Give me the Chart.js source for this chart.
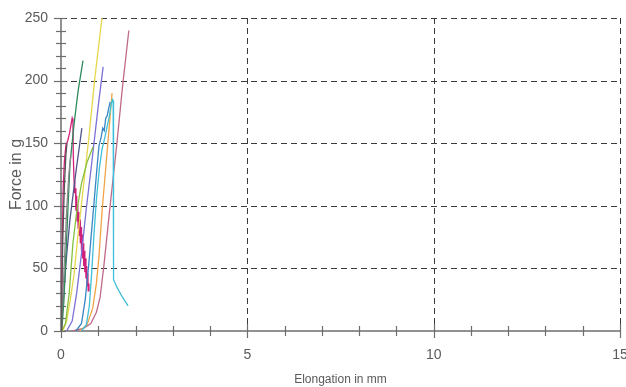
<!DOCTYPE html>
<html>
<head>
<meta charset="utf-8">
<script src="https://cdn.jsdelivr.net/npm/chart.js@4/dist/chart.umd.min.js"></script>
<style>
  html, body { margin: 0; padding: 0; background: #ffffff; }
  #wrap { width: 626px; height: 387px; }
</style>
</head>
<body>
<div id="wrap"><canvas id="c" width="626" height="387"></canvas></div>
<script>
// ---- Data (Elongation in mm, Force in g) ----
const xTickLabels = [0, 5, 10, 15];
const yTickLabels = [0, 50, 100, 150, 200, 250];

const grayX = [0, 0.02, 0.05, 0.09, 0.13, 0.16];
const grayY = [0, 30, 75, 115, 140, 150];

const gray2X = [0, 0.04, 0.09, 0.15, 0.21, 0.26];
const gray2Y = [0, 20, 55, 95, 125, 140];

const magentaX = [0, 0.02, 0.04, 0.06, 0.09, 0.13, 0.18, 0.23, 0.27, 0.30, 0.32, 0.33, 0.35, 0.37, 0.39, 0.40, 0.42, 0.43, 0.45, 0.46, 0.48, 0.49, 0.51, 0.52, 0.54, 0.55, 0.57, 0.58, 0.60, 0.61, 0.63, 0.64, 0.66, 0.67, 0.69, 0.70, 0.72, 0.73, 0.75];
const magentaY = [0, 35, 80, 115, 135, 148, 152, 158, 165, 170, 168, 140, 120, 110, 114, 96, 108, 88, 101, 82, 95, 76, 89, 70, 83, 64, 77, 58, 70, 52, 64, 47, 58, 42, 52, 36, 46, 32, 38];

const darkGreenX = [0, 0.04, 0.08, 0.13, 0.19, 0.24, 0.35, 0.46, 0.59];
const darkGreenY = [0, 8, 25, 60, 100, 133, 165, 192, 216];

const slateX = [0, 0.06, 0.15, 0.24, 0.4, 0.56];
const slateY = [0, 25, 60, 89, 127, 162];

const lightGreenX = [0.02, 0.12, 0.22, 0.32, 0.42, 0.55, 0.7, 0.86];
const lightGreenY = [0, 6, 30, 70, 95, 118, 135, 147];

const yellowX = [0.05, 0.15, 0.25, 0.35, 0.45, 0.6, 0.75, 0.9, 1.1];
const yellowY = [0, 8, 25, 45, 75, 115, 155, 200, 250];

const purpleX = [0.15, 0.3, 0.42, 0.55, 0.68, 0.82, 1.0, 1.13];
const purpleY = [0, 8, 30, 62, 98, 133, 180, 211];

const steelBlueX = [0.4, 0.55, 0.65, 0.75, 0.85, 0.95, 1.02, 1.08, 1.12, 1.16, 1.2, 1.24, 1.28, 1.32];
const steelBlueY = [0, 6, 25, 55, 90, 125, 148, 155, 162, 160, 170, 172, 178, 183];

const cyanX = [0.55, 0.68, 0.76, 0.82, 0.88, 0.95, 1.03, 1.1, 1.18, 1.25, 1.3, 1.34, 1.38, 1.4, 1.41, 1.41, 1.5, 1.65, 1.8];
const cyanY = [0, 5, 20, 45, 75, 105, 130, 145, 155, 165, 172, 180, 185, 184, 120, 41, 35, 27, 20];

const orangeX = [0.5, 0.7, 0.85, 0.95, 1.02, 1.1, 1.2, 1.3, 1.37];
const orangeY = [0, 5, 18, 38, 60, 95, 130, 165, 190];

const mauveX = [0.3, 0.6, 0.8, 0.95, 1.05, 1.15, 1.3, 1.5, 1.65, 1.82];
const mauveY = [0, 2, 6, 15, 27, 52, 95, 150, 195, 240];

const seriesNames = ['gray', 'gray2', 'darkGreen', 'slate', 'lightGreen', 'yellow', 'purple', 'steelBlue', 'cyan', 'orange', 'mauve', 'magenta'];
const seriesX = [grayX, gray2X, darkGreenX, slateX, lightGreenX, yellowX, purpleX, steelBlueX, cyanX, orangeX, mauveX, magentaX];
const seriesY = [grayY, gray2Y, darkGreenY, slateY, lightGreenY, yellowY, purpleY, steelBlueY, cyanY, orangeY, mauveY, magentaY];
const seriesColors = ['#555555', '#8a8a8a', '#2f8a5c', '#50558a', '#86c040', '#e6d64e', '#7b70d6', '#3a86c4', '#3fbfd8', '#f0a446', '#c06a8a', '#d0207a'];

const datasets = seriesNames.map((n, i) => ({
  label: n,
  data: seriesX[i].map((x, j) => ({ x: x, y: seriesY[i][j] })),
  borderColor: seriesColors[i],
  backgroundColor: seriesColors[i],
  borderWidth: 1.3,
  showLine: true,
  pointRadius: 0,
  tension: 0,
  fill: false
}));

const FONT = "'Liberation Sans', Arial, sans-serif";

// Grid, axes and tick marks drawn through the chart scales
const framePlugin = {
  id: 'frame',
  beforeDatasetsDraw(chart) {
    const ctx = chart.ctx;
    const xs = chart.scales.x, ys = chart.scales.y;
    const L = xs.left, R = xs.right, T = ys.top, B = ys.bottom;
    ctx.save();
    // dashed grid
    ctx.strokeStyle = '#3a3a3a';
    ctx.lineWidth = 1;
    ctx.setLineDash([6, 4]);
    yTickLabels.forEach(v => {
      if (v === 0) return;
      const y = Math.round(ys.getPixelForValue(v)) + 0.5;
      ctx.beginPath(); ctx.moveTo(L, y); ctx.lineTo(R, y); ctx.stroke();
    });
    xTickLabels.forEach(v => {
      if (v === 0) return;
      const x = Math.round(xs.getPixelForValue(v)) + 0.5;
      ctx.beginPath(); ctx.moveTo(x, T); ctx.lineTo(x, B); ctx.stroke();
    });
    ctx.setLineDash([]);
    // axes
    ctx.strokeStyle = '#6e6e6e';
    ctx.lineWidth = 1.5;
    ctx.beginPath(); ctx.moveTo(L, T); ctx.lineTo(L, B); ctx.lineTo(R, B); ctx.stroke();
    // tick marks
    ctx.lineWidth = 1.2;
    for (let v = 0; v <= 250; v += 10) {
      const y = Math.round(ys.getPixelForValue(v)) + 0.5;
      const major = v % 50 === 0;
      ctx.beginPath(); ctx.moveTo(L - (major ? 7 : 5), y); ctx.lineTo(L + 5, y); ctx.stroke();
    }
    for (let v = 0; v <= 15; v += 1) {
      const x = Math.round(xs.getPixelForValue(v)) + 0.5;
      const major = v % 5 === 0;
      ctx.beginPath(); ctx.moveTo(x, B - (major ? 7 : 5)); ctx.lineTo(x, B + (major ? 7 : 5)); ctx.stroke();
    }
    ctx.restore();
  }
};

new Chart(document.getElementById('c'), {
  type: 'scatter',
  data: { datasets: datasets },
  options: {
    responsive: false,
    animation: false,
    devicePixelRatio: 1,
    layout: { padding: { left: 0, right: 6, top: 18, bottom: 0 } },
    plugins: { legend: { display: false }, tooltip: { enabled: false } },
    scales: {
      x: {
        type: 'linear', min: 0, max: 15,
        grid: { display: false },
        border: { display: false },
        ticks: {
          stepSize: 5, color: '#5a5a5a', padding: 8,
          font: { family: FONT, size: 14 },
          maxRotation: 0
        },
        title: {
          display: true, text: 'Elongation in mm', color: '#5a5a5a',
          font: { family: FONT, size: 12 }, padding: { top: 4, bottom: 0 }
        },
        afterFit(s) { s.height = 56; s.paddingLeft = 0; s.paddingRight = 0; }
      },
      y: {
        type: 'linear', min: 0, max: 250,
        grid: { display: false },
        border: { display: false },
        ticks: {
          stepSize: 50, color: '#5a5a5a', padding: 5,
          font: { family: FONT, size: 14 }
        },
        title: {
          display: true, text: 'Force in g', color: '#5a5a5a',
          font: { family: FONT, size: 16 }, padding: { top: 7, bottom: 0 }
        },
        afterFit(s) { s.width = 61; s.paddingTop = 0; s.paddingBottom = 0; }
      }
    }
  },
  plugins: [framePlugin]
});
</script>
</body>
</html>
